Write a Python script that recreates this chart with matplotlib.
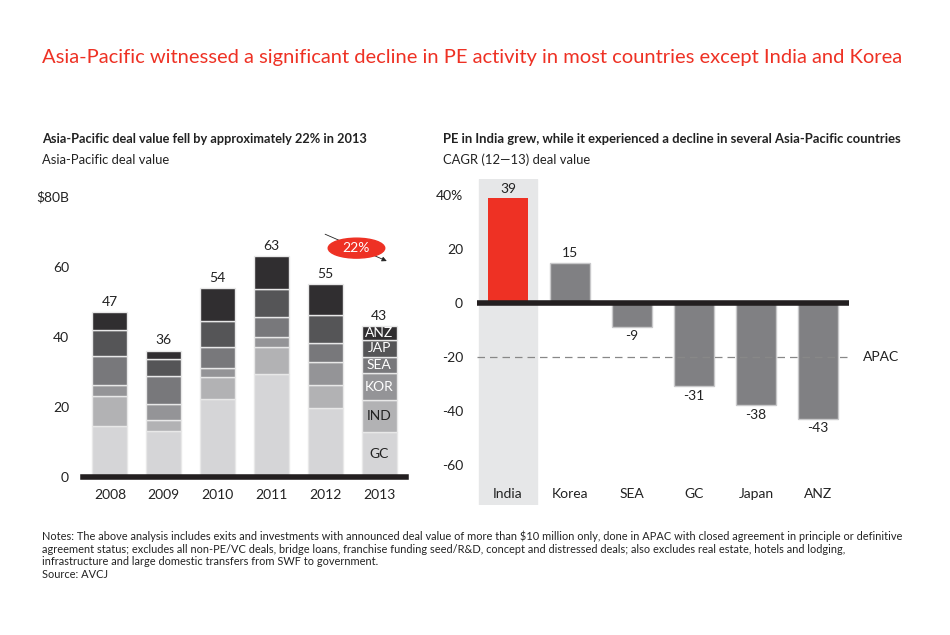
import matplotlib
matplotlib.use("Agg")
import matplotlib.pyplot as plt
import numpy as np
from matplotlib.patches import Ellipse

plt.rcParams['font.family'] = ['Lato', 'DejaVu Sans']

# left chart: Asia-Pacific deal value ($B), stacked by region
years = ['2008', '2009', '2010', '2011', '2012', '2013']
regions = ['GC', 'IND', 'KOR', 'SEA', 'JAP', 'ANZ']
gc = [14.5, 13.0, 22.3, 29.3, 19.5, 12.9]
ind = [8.5, 3.2, 6.1, 7.7, 6.7, 8.9]
kor = [3.2, 4.5, 2.6, 2.8, 6.5, 7.7]
sea = [8.3, 8.0, 6.0, 5.7, 5.5, 4.8]
jap = [7.3, 4.9, 7.4, 8.1, 7.9, 4.7]
anz = [5.2, 2.4, 9.6, 9.4, 8.9, 4.1]
totals = [47, 36, 54, 63, 55, 43]

# right chart: CAGR (12-13) deal value, %
countries = ['India', 'Korea', 'SEA', 'GC', 'Japan', 'ANZ']
cagr = [39, 15, -9, -31, -38, -43]
apac_cagr = -20

seg_colors = ['#d5d5d7', '#b2b2b4', '#949497', '#78787b', '#555557', '#302e30']
red = '#ee3124'
bar_gray = '#808083'

fig = plt.figure(figsize=(9.5, 6.35), dpi=100)
W, H = 950, 635

def box(x0, y0, x1, y1):
    return [x0 / W, 1 - y1 / H, (x1 - x0) / W, (y1 - y0) / H]

# headings
fig.text(42 / W, 1 - 57 / H, 'Asia-Pacific witnessed a significant decline in PE activity in most countries except India and Korea',
         color=red, fontsize=14.5, va='center', ha='left')
fig.text(42 / W, 1 - 139 / H, 'Asia-Pacific deal value fell by approximately 22% in 2013',
         fontsize=9.2, fontweight='bold', va='center', color='#222222')
fig.text(42 / W, 1 - 160 / H, 'Asia-Pacific deal value', fontsize=9.4, va='center', color='#222222')
fig.text(443 / W, 1 - 139 / H, 'PE in India grew, while it experienced a decline in several Asia-Pacific countries',
         fontsize=9.4, fontweight='bold', va='center', color='#222222')
fig.text(443 / W, 1 - 160 / H, 'CAGR (12\u201413) deal value', fontsize=9.4, va='center', color='#222222')

# ---- left stacked bars
ax1 = fig.add_axes(box(83, 196.7, 406, 476.7))
x = np.arange(len(years))
stack = [gc, ind, kor, sea, jap, anz]
bottom = np.zeros(len(years))
for vals, col in zip(stack, seg_colors):
    ax1.bar(x, vals, bottom=bottom, width=0.65, color=col, edgecolor='#e8e8e8', linewidth=1)
    bottom += np.array(vals)
for xi, t, b in zip(x, totals, bottom):
    ax1.text(xi, b + 1.2, str(t), ha='center', va='bottom', fontsize=10, color='#222222')

# region labels inside the last bar
cum = 0
for vals, name in zip(stack, regions):
    v = vals[-1]
    txt_col = 'white' if name in ('ANZ', 'JAP', 'SEA', 'KOR') else '#222222'
    ax1.text(x[-1], cum + v / 2, name, ha='center', va='center', fontsize=10, color=txt_col)
    cum += v

ax1.set_xlim(-0.5, 5.5)
ax1.set_ylim(0, 80)
ax1.set_yticks([0, 20, 40, 60, 80])
ax1.set_yticklabels(['0', '20', '40', '60', '$80B'])
ax1.set_xticks(x)
ax1.set_xticklabels(years)
ax1.tick_params(length=0, labelsize=10, colors='#222222')
ax1.tick_params(axis='y', pad=10)
ax1.tick_params(axis='x', pad=9)
for s in ax1.spines.values():
    s.set_visible(False)
ax1.axhline(0, color='#231f20', linewidth=4, clip_on=False)

# 22% decline marker
ax1.annotate('', xy=(5.19, 61.3), xytext=(3.95, 69.6),
             arrowprops=dict(arrowstyle='-|>', color='#222222', lw=0.6, mutation_scale=7))
ax1.add_patch(Ellipse((4.58, 65.3), 1.05, 5.7, color=red, zorder=3))
ax1.text(4.58, 65.3, '22%', color='white', ha='center', va='center', fontsize=10, zorder=4)

# ---- right CAGR bars
ax2 = fig.add_axes(box(477, 179, 849, 505))
xc = np.arange(len(countries))
ax2.axvspan(-0.47, 0.47, color='#e6e7e8', zorder=0)
colors = [red] + [bar_gray] * (len(countries) - 1)
ax2.bar(xc, cagr, width=0.65, color=colors, edgecolor=['none'] + ['#c8c8ca'] * 5, linewidth=1, zorder=2)
for xi, v in zip(xc, cagr):
    if v >= 0:
        ax2.text(xi, v + 1.2, str(v), ha='center', va='bottom', fontsize=10, color='#222222')
    else:
        ax2.text(xi, v - 1.2, str(v), ha='center', va='top', fontsize=10, color='#222222')
    ax2.text(xi, -70.8, countries[xi], ha='center', va='center', fontsize=10, color='#222222')

ax2.axhline(0, color='#231f20', linewidth=4, zorder=3)
ax2.axhline(apac_cagr, color='#888888', linewidth=0.9, linestyle=(0, (6, 4)), zorder=4)
ax2.text(5.72, apac_cagr, 'APAC', ha='left', va='center', fontsize=10, color='#222222')

ax2.set_xlim(-0.5, 5.5)
ax2.set_ylim(-75, 46)
ax2.set_yticks([-60, -40, -20, 0, 20, 40])
ax2.set_yticklabels(['-60', '-40', '-20', '0', '20', '40%'])
ax2.set_xticks([])
ax2.tick_params(length=0, labelsize=10, colors='#222222', pad=10)
for s in ax2.spines.values():
    s.set_visible(False)

# notes
notes = ('Notes: The above analysis includes exits and investments with announced deal value of more than $10 million only, done in APAC with closed agreement in principle or definitive\n'
         'agreement status; excludes all non-PE/VC deals, bridge loans, franchise funding seed/R&D, concept and distressed deals; also excludes real estate, hotels and lodging,\n'
         'infrastructure and large domestic transfers from SWF to government.\n'
         'Source: AVCJ')
fig.text(42 / W, 1 - 531 / H, notes, fontsize=7.9, va='top', ha='left', color='#222222', linespacing=1.15)

fig.savefig('out.png', dpi=100, facecolor='white')
